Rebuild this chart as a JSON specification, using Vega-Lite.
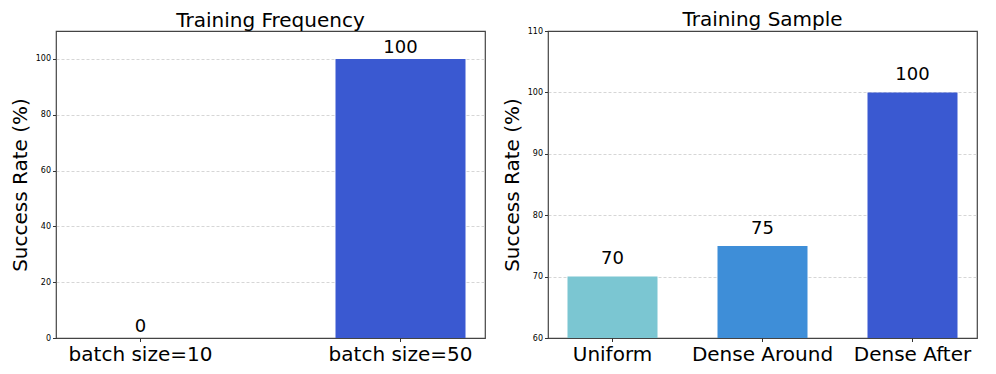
{
  "$schema": "https://vega.github.io/schema/vega-lite/v6.json",
  "padding": {"left": 9, "top": 9, "right": 10, "bottom": 5},
  "background": "white",
  "spacing": 15,
  "config": {
    "font": "DejaVu Sans",
    "view": {"stroke": "#444444", "strokeWidth": 1.2},
    "title": {"font": "DejaVu Sans", "fontSize": 20, "fontWeight": "normal", "color": "black"},
    "axis": {
      "labelFont": "DejaVu Sans",
      "titleFont": "DejaVu Sans",
      "labelColor": "black",
      "titleColor": "black",
      "tickColor": "#333333",
      "tickSize": 3.5,
      "domain": false,
      "titleFontWeight": "normal"
    },
    "axisX": {"labelFontSize": 20, "labelPadding": 3, "labelAngle": 0, "grid": false, "title": null},
    "axisY": {"labelFontSize": 8, "labelPadding": 2, "titleFontSize": 20, "titlePadding": 5, "grid": true, "gridDash": [3, 2], "gridWidth": 0.8}
  },
  "hconcat": [
    {
      "width": 429,
      "height": 307,
      "title": {"text": "Training Frequency", "offset": 0},
      "data": {"values": [
        {"setting": "batch size=10", "rate": 0},
        {"setting": "batch size=50", "rate": 100}
      ]},
      "encoding": {
        "x": {"field": "setting", "type": "nominal", "sort": null, "scale": {"paddingInner": 0.5, "paddingOuter": 0.075}},
        "y": {"field": "rate", "type": "quantitative", "scale": {"domain": [0, 110], "nice": false}, "axis": {"title": "Success Rate (%)", "values": [0, 20, 40, 60, 80, 100], "gridColor": {"condition": {"test": "datum.value === 0", "value": "transparent"}, "value": "#cccccc"}}}
      },
      "layer": [
        {"mark": {"type": "bar", "color": "#3A59D1"}},
        {"mark": {"type": "text", "fontSize": 18, "baseline": "alphabetic", "dy": -5.6, "color": "black"}, "encoding": {"text": {"field": "rate", "type": "quantitative"}}}
      ]
    },
    {
      "width": 429,
      "height": 307,
      "title": {"text": "Training Sample", "offset": -3},
      "data": {"values": [
        {"setting": "Uniform", "rate": 70},
        {"setting": "Dense Around", "rate": 75},
        {"setting": "Dense After", "rate": 100}
      ]},
      "encoding": {
        "x": {"field": "setting", "type": "nominal", "sort": null, "scale": {"paddingInner": 0.4, "paddingOuter": 0.13}},
        "y": {"field": "rate", "type": "quantitative", "scale": {"domain": [60, 110], "nice": false, "zero": false}, "axis": {"title": "Success Rate (%)", "values": [60, 70, 80, 90, 100, 110], "gridColor": {"condition": {"test": "datum.value === 110 || datum.value === 60", "value": "transparent"}, "value": "#cccccc"}}}
      },
      "layer": [
        {"mark": {"type": "bar", "clip": true}, "encoding": {"y2": {"datum": 60}, "color": {"field": "setting", "type": "nominal", "sort": null, "scale": {"domain": ["Uniform", "Dense Around", "Dense After"], "range": ["#7BC6D2", "#3E8ED8", "#3A59D1"]}, "legend": null}}},
        {"mark": {"type": "text", "fontSize": 18, "baseline": "alphabetic", "dy": -12.3, "color": "black"}, "encoding": {"text": {"field": "rate", "type": "quantitative"}}}
      ]
    }
  ]
}
